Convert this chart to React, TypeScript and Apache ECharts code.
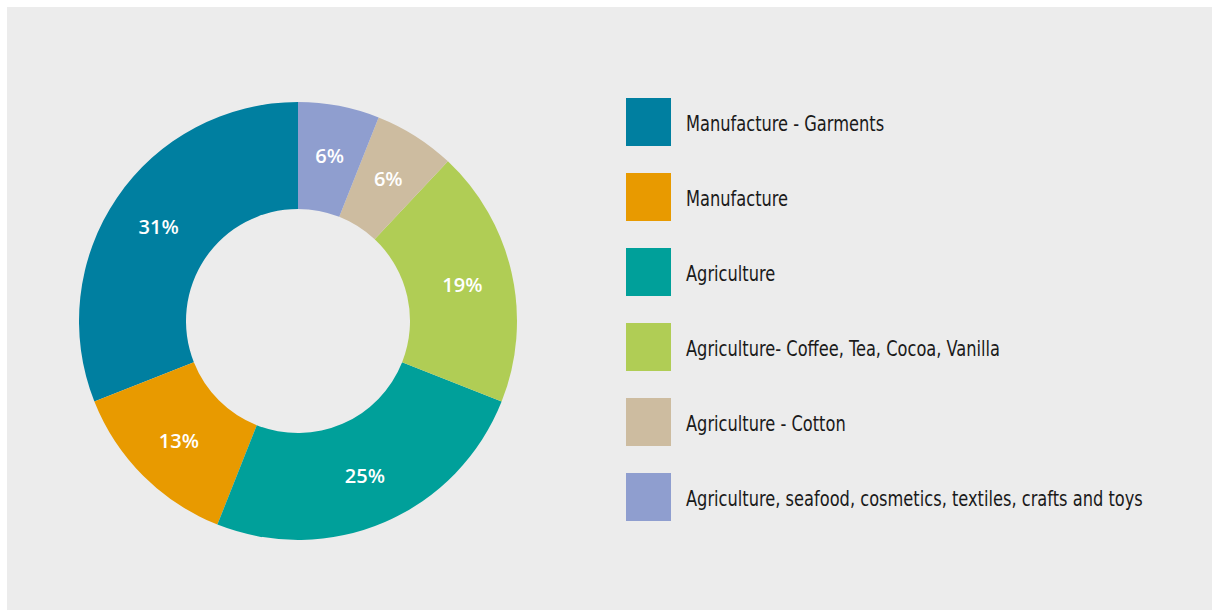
import React, { useEffect, useRef } from "react";
import * as echarts from "echarts";

const categories = [
  "Manufacture - Garments",
  "Manufacture",
  "Agriculture",
  "Agriculture- Coffee, Tea, Cocoa, Vanilla",
  "Agriculture - Cotton",
  "Agriculture, seafood, cosmetics, textiles, crafts and toys",
];
const shares = [31, 13, 25, 19, 6, 6];
const colors = ["#007fa0", "#e89a00", "#00a09a", "#b0cd55", "#cdbca0", "#8f9ecf"];

export default function App() {
  const ref = useRef<HTMLDivElement>(null);
  useEffect(() => {
    if (!ref.current) return;
    const chart = echarts.init(ref.current, undefined, { renderer: "svg" });
    const legendItems: any[] = [];
    categories.forEach((name, i) => {
      legendItems.push({
        type: "rect",
        shape: { x: 619, y: 91 + i * 75, width: 45, height: 48 },
        style: { fill: colors[i] },
        silent: true,
      });
      legendItems.push({
        type: "text",
        x: 679,
        y: 117 + i * 75,
        scaleX: 0.86,
        style: {
          text: name,
          fill: "#1a1a1a",
          fontFamily: "'DejaVu Sans Condensed', sans-serif",
          fontSize: 21,
          verticalAlign: "middle",
          align: "left",
        },
        silent: true,
      });
    });
    chart.setOption({
      animation: false,
      backgroundColor: "#ececec",
      color: colors,
      graphic: legendItems,
      series: [
        {
          type: "pie",
          center: [291, 314],
          radius: [112, 219],
          startAngle: 90,
          clockwise: false,
          avoidLabelOverlap: false,
          label: {
            show: true,
            position: "inside",
            formatter: "{c}%",
            color: "#ffffff",
            fontFamily: "'Open Sans', sans-serif",
            fontWeight: 600,
            fontSize: 20,
          },
          labelLine: { show: false },
          itemStyle: { borderWidth: 0 },
          emphasis: { disabled: true },
          data: categories.map((name, i) => ({ name, value: shares[i] })),
        },
      ],
    });
    return () => chart.dispose();
  }, []);
  return (
    <div
      ref={ref}
      style={{ position: "fixed", left: 7, top: 7, width: 1205, height: 603 }}
    />
  );
}
